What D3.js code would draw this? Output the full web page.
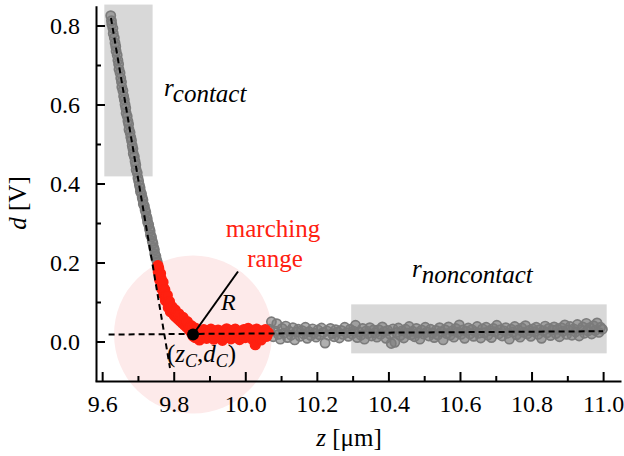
<!DOCTYPE html>
<html>
<head>
<meta charset="utf-8">
<script src="https://cdn.jsdelivr.net/npm/d3@7"></script>
<style>
  html, body { margin: 0; padding: 0; background: #fff; }
  svg { display: block; }
  svg text { font-family: "Liberation Serif", "Times New Roman", Times, "DejaVu Serif", serif; }
</style>
</head>
<body>
<svg id="chart" width="624" height="456"></svg>
<script>
// Approach curve d(z): contact branch, marching range and non-contact branch
const contactPts = [
  [9.624,0.825],[9.626,0.812],[9.627,0.803],[9.630,0.793],[9.631,0.780],[9.634,0.769],[9.636,0.756],[9.638,0.747],[9.639,0.735],[9.642,0.725],
  [9.644,0.712],[9.646,0.702],[9.647,0.689],[9.650,0.680],[9.652,0.667],[9.654,0.657],[9.655,0.644],[9.658,0.635],[9.660,0.621],[9.662,0.612],
  [9.664,0.600],[9.666,0.591],[9.667,0.578],[9.670,0.570],[9.672,0.558],[9.674,0.550],[9.675,0.537],[9.678,0.529],[9.680,0.517],[9.682,0.509],
  [9.684,0.496],[9.686,0.488],[9.687,0.476],[9.690,0.468],[9.692,0.456],[9.694,0.447],[9.695,0.435],[9.698,0.427],[9.700,0.414],[9.702,0.406],
  [9.704,0.396],[9.706,0.389],[9.707,0.380],[9.710,0.374],[9.712,0.364],[9.714,0.358],[9.715,0.348],[9.718,0.343],[9.720,0.333],[9.722,0.327],
  [9.724,0.317],[9.726,0.311],[9.727,0.302],[9.730,0.296],[9.732,0.286],[9.734,0.280],[9.735,0.270],[9.738,0.264],[9.740,0.254],[9.742,0.248],
  [9.744,0.238],[9.746,0.232],[9.747,0.222],[9.750,0.216],[9.752,0.207],[9.754,0.201]
];

const marchingPts = [
  [9.756,0.192],[9.758,0.185],[9.757,0.176],[9.760,0.170],[9.762,0.163],[9.761,0.155],[9.765,0.158],[9.766,0.148],[9.768,0.142],[9.767,0.133],
  [9.771,0.137],[9.773,0.128],[9.772,0.119],[9.776,0.122],[9.778,0.113],[9.777,0.104],[9.781,0.108],[9.783,0.099],[9.786,0.094],[9.785,0.086],
  [9.789,0.090],[9.792,0.083],[9.791,0.075],[9.796,0.079],[9.799,0.071],[9.802,0.066],[9.801,0.076],[9.806,0.062],[9.809,0.068],[9.812,0.057],
  [9.815,0.063],[9.818,0.052],[9.821,0.058],[9.824,0.047],[9.827,0.053],[9.830,0.042],[9.833,0.048],[9.836,0.037],[9.839,0.043],[9.842,0.031],
  [9.845,0.036],[9.848,0.024],[9.851,0.029],[9.854,0.014],[9.857,0.022],
  [9.763,0.172],[9.770,0.150],[9.775,0.131],[9.782,0.117],[9.788,0.101],[9.795,0.088],[9.804,0.080],[9.814,0.070],[9.826,0.061],[9.838,0.050],
  [9.849,0.040],[9.860,0.034],
  [9.860,0.010],[9.864,0.027],[9.868,0.016],[9.872,0.004],[9.876,0.024],[9.880,0.012],[9.884,0.030],[9.888,0.018],[9.892,0.008],[9.896,0.025],
  [9.900,0.014],[9.904,0.031],[9.908,0.020],[9.912,0.006],[9.916,0.026],[9.920,0.015],[9.924,0.029],[9.928,0.011],[9.932,0.021],[9.936,0.003],
  [9.940,0.027],[9.944,0.017],[9.948,0.032],[9.952,0.012],[9.956,0.022],[9.960,0.007],[9.964,0.028],[9.968,0.016],[9.972,0.031],[9.976,0.013],
  [9.980,0.023],[9.984,0.005],[9.988,0.026],[9.992,0.018],[9.996,0.030],[10.000,0.010],[10.004,0.021],[10.008,0.033],[10.012,0.014],[10.016,0.024],
  [10.020,0.006],[10.024,0.029],[10.028,-0.008],[10.032,0.031],[10.036,0.012],[10.040,0.022],[10.044,0.004],[10.048,0.027],[10.052,0.016],[10.056,0.030],
  [10.060,0.013],[10.064,0.022]
];

const noncontactPts = [
  [10.068,0.031],[10.073,0.050],[10.078,0.012],[10.083,0.027],[10.088,0.045],[10.093,0.018],[10.098,0.006],[10.103,0.033],[10.108,0.021],[10.113,0.039],
  [10.118,0.010],[10.123,0.026],[10.128,0.016],[10.133,0.035],[10.138,0.004],[10.143,0.024],[10.148,0.031],[10.153,0.013],[10.158,0.028],[10.163,0.019],
  [10.168,0.036],[10.173,0.008],[10.178,0.025],[10.183,0.015],[10.188,0.032],[10.193,0.021],[10.198,0.011],[10.203,0.029],[10.208,0.017],[10.213,0.034],
  [10.218,0.023],[10.223,-0.004],[10.228,0.027],[10.233,0.016],[10.238,0.033],[10.243,0.020],[10.248,0.012],[10.253,0.030],[10.258,0.024],[10.263,0.009],
  [10.268,0.028],[10.273,0.018],[10.278,0.036],[10.283,0.022],[10.288,0.013],[10.293,0.031],[10.298,0.019],[10.303,0.026],[10.308,0.041],[10.313,0.010],
  [10.318,0.024],[10.323,0.016],[10.328,0.033],[10.333,0.006],[10.338,0.027],[10.343,0.020],[10.348,0.035],[10.353,0.014],[10.358,0.029],[10.363,0.022],
  [10.368,0.011],[10.373,0.030],[10.378,0.018],[10.383,0.037],[10.388,0.025],[10.393,0.008],[10.398,0.028],[10.403,0.019],[10.408,-0.005],[10.413,0.032],
  [10.418,-0.002],[10.423,0.023],[10.428,0.034],[10.433,0.015],[10.438,0.027],[10.443,0.009],[10.448,0.031],[10.453,0.021],[10.458,0.038],[10.463,0.017],
  [10.468,0.026],[10.473,0.012],[10.478,0.033],[10.483,0.022],[10.488,0.006],[10.493,0.029],[10.498,0.019],[10.503,0.036],[10.508,0.024],[10.513,0.014],
  [10.518,0.031],[10.523,0.021],[10.528,0.010],[10.533,0.028],[10.538,0.017],[10.543,0.035],[10.548,0.025],[10.553,0.004],[10.558,0.030],[10.563,0.020],
  [10.568,0.037],[10.573,0.016],[10.578,0.027],[10.583,0.011],[10.588,0.033],[10.593,0.023],[10.598,0.042],[10.603,0.018],[10.608,0.029],[10.613,0.008],
  [10.618,0.026],[10.623,0.034],[10.628,0.019],[10.633,0.030],[10.638,0.013],[10.643,0.024],[10.648,0.038],[10.653,0.021],[10.658,0.009],[10.663,0.032],
  [10.668,0.022],[10.673,0.036],[10.678,0.016],[10.683,0.028],[10.688,0.010],[10.693,0.033],[10.698,0.025],[10.703,0.041],[10.708,0.019],[10.713,0.030],
  [10.718,0.014],[10.723,0.027],[10.728,0.035],[10.733,0.021],[10.738,0.006],[10.743,0.031],[10.748,0.024],[10.753,0.038],[10.758,0.017],[10.763,0.029],
  [10.768,0.011],[10.773,0.034],[10.778,0.023],[10.783,0.040],[10.788,0.019],[10.793,0.028],[10.798,0.013],[10.803,0.032],[10.808,0.025],[10.813,0.036],
  [10.818,0.018],[10.823,0.030],[10.828,0.008],[10.833,0.027],[10.838,0.039],[10.843,0.022],[10.848,0.033],[10.853,0.015],[10.858,0.029],[10.863,0.037],
  [10.868,0.020],[10.873,0.031],[10.878,0.012],[10.883,0.035],[10.888,0.026],[10.893,0.042],[10.898,0.018],[10.903,0.029],[10.908,0.038],[10.913,0.016],
  [10.918,0.032],[10.923,0.024],[10.928,0.043],[10.933,0.014],[10.938,0.030],[10.943,0.037],[10.948,0.021],[10.953,0.046],[10.958,0.027],[10.963,0.035],
  [10.968,0.019],[10.973,0.040],[10.978,0.028],[10.983,0.047],[10.988,0.023],[10.993,0.036],[10.998,0.031]
];

// Linear fits of the two branches
const contactFit = [[9.6247, 0.819], [9.7896, -0.067]];
const noncontactFit = [[9.618, 0.0177], [11.0, 0.026]];

// Contact point (z_C, d_C)
const contactPoint = [9.854, 0.0177];

// Fit windows [zMin, zMax, dMin, dMax]
const contactWindow = [9.606, 9.741, 0.418, 0.853];
const noncontactWindow = [10.296, 11.010, -0.030, 0.094];

const xMajor = [9.6, 9.8, 10.0, 10.2, 10.4, 10.6, 10.8, 11.0];
const xMinor = [9.7, 9.9, 10.1, 10.3, 10.5, 10.7, 10.9];
const yMajor = [0.0, 0.2, 0.4, 0.6, 0.8];
const yMinor = [0.1, 0.3, 0.5, 0.7];

const SERIF = "'Liberation Serif', 'Times New Roman', Times, 'DejaVu Serif', serif";

const svg = d3.select("#chart");

const x = d3.scaleLinear().domain([9.58, 11.05]).range([95, 621]);
const y = d3.scaleLinear().domain([-0.1, 0.85]).range([381, 5.75]);

const GREY = "#7b7b7b";
const RED = "#ff2010";
const R_PX = 79;

// marching-range circle
svg.append("circle")
  .attr("cx", x(contactPoint[0])).attr("cy", y(contactPoint[1]))
  .attr("r", R_PX).attr("fill", "#fdeaea");

// fit windows
[contactWindow, noncontactWindow].forEach(w => {
  svg.append("rect")
    .attr("x", x(w[0])).attr("y", y(w[3]))
    .attr("width", x(w[1]) - x(w[0])).attr("height", y(w[2]) - y(w[3]))
    .attr("fill", "#d8d8d8");
});

// data points: open rings that merge into a band where they overlap
const pts = svg.append("g").attr("stroke-width", 1.7);
pts.selectAll("circle.c").data(contactPts.concat(noncontactPts)).join("circle")
  .attr("class", "c")
  .attr("cx", d => x(d[0])).attr("cy", d => y(d[1])).attr("r", 4.6)
  .attr("stroke", GREY).attr("fill", GREY).attr("fill-opacity", 0.6);
pts.selectAll("circle.m").data(marchingPts).join("circle")
  .attr("class", "m")
  .attr("cx", d => x(d[0])).attr("cy", d => y(d[1])).attr("r", 4.8)
  .attr("stroke", RED).attr("fill", RED);

// fit lines
const line = d3.line().x(d => x(d[0])).y(d => y(d[1]));
[contactFit, noncontactFit].forEach(f => {
  svg.append("path").attr("d", line(f))
    .attr("fill", "none").attr("stroke", "#000")
    .attr("stroke-width", 2).attr("stroke-dasharray", "6,4");
});

// radius marker
const cx0 = x(contactPoint[0]), cy0 = y(contactPoint[1]);
const ang = -54.5 * Math.PI / 180;
svg.append("line")
  .attr("x1", cx0).attr("y1", cy0)
  .attr("x2", cx0 + Math.cos(ang) * R_PX * 0.98)
  .attr("y2", cy0 + Math.sin(ang) * R_PX * 0.98)
  .attr("stroke", "#000").attr("stroke-width", 2);
svg.append("circle").attr("cx", cx0).attr("cy", cy0).attr("r", 6).attr("fill", "#000");

// axes
const fmt = d3.format(".1f");
svg.append("g").attr("transform", "translate(0,381)")
  .call(d3.axisBottom(x).tickValues(xMajor).tickFormat(fmt).tickSize(-9).tickSizeOuter(0).tickPadding(14));
svg.append("g").attr("transform", "translate(0,381)")
  .call(d3.axisBottom(x).tickValues(xMinor).tickFormat("").tickSize(-5).tickSizeOuter(0))
  .select(".domain").remove();
svg.append("g").attr("transform", "translate(96,0)")
  .call(d3.axisLeft(y).tickValues(yMajor).tickFormat(fmt).tickSize(-9).tickSizeOuter(0).tickPadding(16));
svg.append("g").attr("transform", "translate(96,0)")
  .call(d3.axisLeft(y).tickValues(yMinor).tickFormat("").tickSize(-5).tickSizeOuter(0))
  .select(".domain").remove();

svg.selectAll(".domain").attr("stroke", "#000").attr("stroke-width", 2);
svg.selectAll(".tick line").attr("stroke", "#000").attr("stroke-width", 2);
svg.selectAll("g").attr("font-family", SERIF);
svg.selectAll(".tick text").attr("font-size", 24).attr("fill", "#000");

// axis titles
const xt = svg.append("text").attr("x", 349).attr("y", 446)
  .attr("text-anchor", "middle").attr("font-size", 25).attr("font-family", SERIF);
xt.append("tspan").attr("font-style", "italic").text("z");
xt.append("tspan").text(" [μm]");

const yt = svg.append("text")
  .attr("transform", "translate(26,203) rotate(-90)")
  .attr("text-anchor", "middle").attr("font-size", 25).attr("font-family", SERIF);
yt.append("tspan").attr("font-style", "italic").text("d");
yt.append("tspan").text(" [V]");

// annotations
const rc = svg.append("text").attr("x", 164).attr("y", 96)
  .attr("font-size", 25).attr("font-style", "italic").attr("font-family", SERIF);
rc.append("tspan").text("r");
rc.append("tspan").attr("dy", 6).text("contact");

const rn = svg.append("text").attr("x", 412).attr("y", 277)
  .attr("font-size", 25).attr("font-style", "italic").attr("font-family", SERIF);
rn.append("tspan").text("r");
rn.append("tspan").attr("dy", 6).text("noncontact");

svg.append("text").attr("x", 273).attr("y", 237).attr("font-family", SERIF)
  .attr("text-anchor", "middle").attr("font-size", 25).attr("fill", RED).text("marching");
svg.append("text").attr("x", 275).attr("y", 267).attr("font-family", SERIF)
  .attr("text-anchor", "middle").attr("font-size", 25).attr("fill", RED).text("range");

svg.append("text").attr("x", 221).attr("y", 310).attr("font-family", SERIF)
  .attr("font-size", 24).attr("font-style", "italic").text("R");

const zc = svg.append("text").attr("x", 167).attr("y", 362).attr("font-size", 25).attr("font-family", SERIF);
zc.append("tspan").text("(");
zc.append("tspan").attr("font-style", "italic").text("z");
zc.append("tspan").attr("font-style", "italic").attr("font-size", 18).attr("dy", 5).text("C");
zc.append("tspan").attr("dy", -5).text(",");
zc.append("tspan").attr("font-style", "italic").text("d");
zc.append("tspan").attr("font-style", "italic").attr("font-size", 18).attr("dy", 5).text("C");
zc.append("tspan").attr("dy", -5).text(")");
</script>
</body>
</html>
